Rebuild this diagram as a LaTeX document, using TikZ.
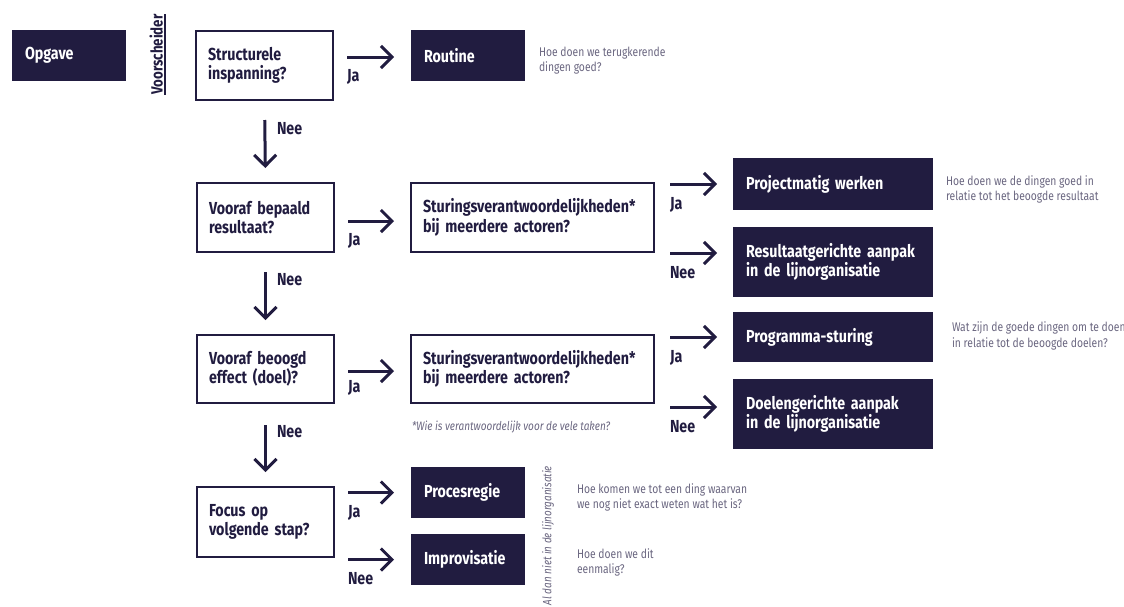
\documentclass[tikz,border=0pt]{standalone}
\usepackage{fontspec}
\setmainfont{Fira Sans}[FakeStretch=0.82]
\usetikzlibrary{arrows.meta}
\definecolor{navy}{HTML}{211C40}
\definecolor{note}{HTML}{6A6680}
\begin{document}
\begin{tikzpicture}[x=1pt, y=-1pt,
  every node/.style={inner sep=0pt, outer sep=0pt},
  boxfont/.style={font=\bfseries\fontsize{17.4}{19.5}\selectfont},
  darkbox/.style={boxfont, fill=navy, text=white, anchor=north west, align=left, inner xsep=13pt},
  linebox/.style={boxfont, draw=navy, line width=2pt, text=navy, anchor=north west, align=left, inner xsep=12pt},
  notetext/.style={font=\fontsize{12.6}{15.5}\selectfont, text=note, anchor=west, align=left},
  lab/.style={boxfont, text=navy, pos=0, anchor=base west, yshift=-25pt},
  arr/.style={draw=navy, line width=3pt, -{Straight Barb[length=11pt, width=22pt, line width=3pt]}},
  harrL/.style={arr, shorten <=14pt, shorten >=17pt},
  harrR/.style={arr, shorten <=16pt, shorten >=16pt},
  varr/.style={arr, shorten <=20pt, shorten >=15pt}
]
\useasboundingbox (0,0) rectangle (1124,606);

% left column: starting point and questions
\node[darkbox, minimum width=114pt, minimum height=51pt, text width=88pt] (opg) at (12,30) {Opgave};
\node[rotate=90, anchor=south, font=\bfseries\fontsize{16.2}{18}\selectfont, text=navy] (vs) at (163,54.5) {Voorscheider};
\draw[navy, line width=1.5pt] ([xshift=2.2pt]vs.south west) -- ([xshift=2.2pt]vs.south east);

\node[linebox, minimum width=137pt, minimum height=69pt, text width=113pt] (q1) at (196,31) {Structurele\\inspanning?};
\node[linebox, minimum width=137pt, minimum height=69pt, text width=113pt] (q2) at (197,183) {Vooraf bepaald\\resultaat?};
\node[linebox, minimum width=137pt, minimum height=68pt, text width=113pt] (q3) at (197,335) {Vooraf beoogd\\effect (doel)?};
\node[linebox, minimum width=137pt, minimum height=70pt, text width=113pt] (q4) at (197,487) {Focus op\\volgende stap?};

% second column
\node[darkbox, minimum width=114pt, minimum height=51pt, text width=88pt] (rout) at (411,30) {Routine};
\node[linebox, minimum width=243pt, minimum height=69pt, text width=219pt] (s1) at (411,183) {Sturingsverantwoordelijkheden*\\bij meerdere actoren?};
\node[linebox, minimum width=243pt, minimum height=68pt, text width=219pt] (s2) at (411,335) {Sturingsverantwoordelijkheden*\\bij meerdere actoren?};
\node[darkbox, minimum width=114pt, minimum height=51pt, text width=88pt] (proc) at (411,467) {Procesregie};
\node[darkbox, minimum width=114pt, minimum height=51pt, text width=88pt] (impr) at (411,534) {Improvisatie};

% third column
\node[darkbox, minimum width=200pt, minimum height=52pt, text width=174pt] (proj) at (733,158) {Projectmatig werken};
\node[darkbox, minimum width=200pt, minimum height=70pt, text width=174pt] (res) at (733,227) {Resultaatgerichte aanpak\\in de lijnorganisatie};
\node[darkbox, minimum width=200pt, minimum height=50pt, text width=174pt] (prog) at (733,312) {Programma-sturing};
\node[darkbox, minimum width=200pt, minimum height=70pt, text width=174pt] (doel) at (733,379) {Doelengerichte aanpak\\in de lijnorganisatie};

% explanations
\node[notetext] (n1) at (539,60.5) {Hoe doen we terugkerende\\dingen goed?};
\node[notetext] (n2) at (946,189.5) {Hoe doen we de dingen goed in\\relatie tot het beoogde resultaat};
\node[notetext] (n3) at (952,336) {Wat zijn de goede dingen om te doen\\in relatie tot de beoogde doelen?};
\node[notetext] (n4) at (577,497.5) {Hoe komen we tot een ding waarvan\\we nog niet exact weten wat het is?};
\node[notetext] (n5) at (577,562.5) {Hoe doen we dit\\eenmalig?};
\node[notetext, font=\itshape\fontsize{12.2}{15}\selectfont] (fn) at (412,427) {*Wie is verantwoordelijk voor de vele taken?};
\node[rotate=90, anchor=west, font=\itshape\fontsize{12}{15}\selectfont, text=note] (lijn) at (548,605) {Al dan niet in de lijnorganisatie};

% downward "Nee" arrows
\draw[varr] (q1.south) -- (q2.north);
\draw[varr] (q2.south) -- (q3.north);
\draw[varr, shorten <=22pt] (q3.south) -- (q4.north);
\node[boxfont, text=navy, anchor=west] (nee1) at (277,129) {Nee};
\node[boxfont, text=navy, anchor=west] (nee2) at (277,280) {Nee};
\node[boxfont, text=navy, anchor=west] (nee3) at (277,432) {Nee};

% rightward arrows
\path ([yshift=-1.5pt]rout.west) coordinate (routin)
      ([yshift=9pt]res.west) coordinate (resin)
      ([yshift=7pt]doel.west) coordinate (doelin);
\draw[harrL] (q1.east |- routin) -- (routin) node[lab, xshift=14pt, yshift=1pt] {Ja};
\draw[harrL] ([yshift=-3.5pt]q2.east) -- ([yshift=-3.5pt]s1.west) node[lab, xshift=14pt, yshift=1pt] {Ja};
\draw[harrL] ([yshift=-2pt]q3.east) -- ([yshift=-2pt]s2.west) node[lab, xshift=14pt, yshift=4pt] {Ja};
\draw[harrL] (q4.east |- proc.west) -- (proc.west) node[lab, xshift=14pt] {Ja};
\draw[harrL] (q4.east |- impr.west) -- (impr.west) node[lab, xshift=14pt] {Nee};

\draw[harrR] (s1.east |- proj.west) -- (proj.west) node[lab, xshift=16pt] {Ja};
\draw[harrR] (s1.east |- resin) -- (resin) node[lab, xshift=16pt] {Nee};
\draw[harrR] (s2.east |- prog.west) -- (prog.west) node[lab, xshift=16pt] {Ja};
\draw[harrR] (s2.east |- doelin) -- (doelin) node[lab, xshift=16pt] {Nee};
\end{tikzpicture}
\end{document}
